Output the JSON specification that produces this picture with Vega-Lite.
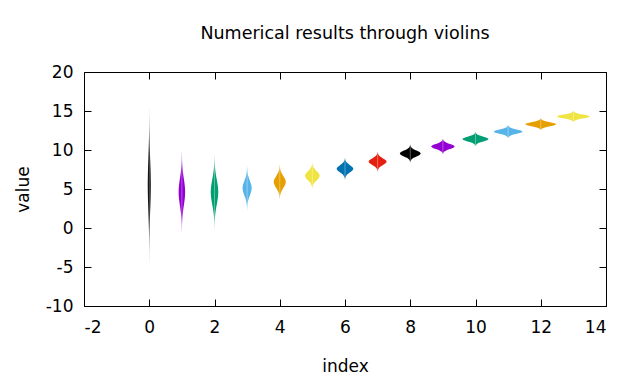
{
 "$schema": "https://vega.github.io/schema/vega-lite/v6.json",
 "width": 522, "height": 234,
 "autosize": {"type": "none"},
 "padding": {"left": 84, "top": 72, "right": 34, "bottom": 78},
 "background": "white",
 "title": {"text": "Numerical results through violins", "fontSize": 17.5, "font": "DejaVu Sans", "fontWeight": "normal", "color": "#000", "anchor": "middle", "offset": 21},
 "config": {
  "view": {"stroke": "#000", "strokeWidth": 1},
  "axis": {"grid": false, "domain": false, "tickColor": "#000", "tickSize": -7, "labelFont": "DejaVu Sans", "labelFontSize": 17, "labelColor": "#000", "titleFont": "DejaVu Sans", "titleFontSize": 17, "titleFontWeight": "normal", "titleColor": "#000", "labelExpr": "'' + datum.value"}
 },
 "data": {"values": [
  {"i":0,"v":-4.4,"lo":-0.0005,"hi":0.0005},{"i":0,"v":-2.75,"lo":-0.002,"hi":0.002},{"i":0,"v":-1.1,"lo":-0.0062,"hi":0.0062},{"i":0,"v":0.55,"lo":-0.0149,"hi":0.0149},{"i":0,"v":2.2,"lo":-0.0279,"hi":0.0279},{"i":0,"v":3.85,"lo":-0.0406,"hi":0.0406},{"i":0,"v":5.5,"lo":-0.046,"hi":0.046},{"i":0,"v":7.15,"lo":-0.0406,"hi":0.0406},{"i":0,"v":8.8,"lo":-0.0279,"hi":0.0279},{"i":0,"v":10.45,"lo":-0.0149,"hi":0.0149},{"i":0,"v":12.1,"lo":-0.0062,"hi":0.0062},{"i":0,"v":13.75,"lo":-0.002,"hi":0.002},{"i":0,"v":15.4,"lo":-0.0005,"hi":0.0005},
  {"i":1,"v":-0.6,"lo":0.9989,"hi":1.0011},{"i":1,"v":0.3,"lo":0.9956,"hi":1.0044},{"i":1,"v":1.2,"lo":0.9865,"hi":1.0135},{"i":1,"v":2.05,"lo":0.9675,"hi":1.0325},{"i":1,"v":2.9,"lo":0.9393,"hi":1.0607},{"i":1,"v":3.75,"lo":0.9117,"hi":1.0883},{"i":1,"v":4.6,"lo":0.9,"hi":1.1},{"i":1,"v":5.45,"lo":0.9117,"hi":1.0883},{"i":1,"v":6.3,"lo":0.9393,"hi":1.0607},{"i":1,"v":7.15,"lo":0.9675,"hi":1.0325},{"i":1,"v":8.0,"lo":0.9865,"hi":1.0135},{"i":1,"v":8.9,"lo":0.9956,"hi":1.0044},{"i":1,"v":9.8,"lo":0.9989,"hi":1.0011},
  {"i":2,"v":-0.2,"lo":1.9987,"hi":2.0013},{"i":2,"v":0.6,"lo":1.995,"hi":2.005},{"i":2,"v":1.4,"lo":1.9844,"hi":2.0156},{"i":2,"v":2.2,"lo":1.9627,"hi":2.0373},{"i":2,"v":3.0,"lo":1.9303,"hi":2.0697},{"i":2,"v":3.8,"lo":1.8985,"hi":2.1015},{"i":2,"v":4.6,"lo":1.885,"hi":2.115},{"i":2,"v":5.4,"lo":1.8985,"hi":2.1015},{"i":2,"v":6.2,"lo":1.9303,"hi":2.0697},{"i":2,"v":7.0,"lo":1.9627,"hi":2.0373},{"i":2,"v":7.8,"lo":1.9844,"hi":2.0156},{"i":2,"v":8.6,"lo":1.995,"hi":2.005},{"i":2,"v":9.4,"lo":1.9987,"hi":2.0013},
  {"i":3,"v":2.31,"lo":2.9984,"hi":3.0016},{"i":3,"v":2.78,"lo":2.9939,"hi":3.0061},{"i":3,"v":3.24,"lo":2.9811,"hi":3.0189},{"i":3,"v":3.71,"lo":2.9545,"hi":3.0455},{"i":3,"v":4.17,"lo":2.9151,"hi":3.0849},{"i":3,"v":4.64,"lo":2.8764,"hi":3.1236},{"i":3,"v":5.1,"lo":2.86,"hi":3.14},{"i":3,"v":5.57,"lo":2.8764,"hi":3.1236},{"i":3,"v":6.03,"lo":2.9151,"hi":3.0849},{"i":3,"v":6.5,"lo":2.9545,"hi":3.0455},{"i":3,"v":6.96,"lo":2.9811,"hi":3.0189},{"i":3,"v":7.43,"lo":2.9939,"hi":3.0061},{"i":3,"v":7.89,"lo":2.9984,"hi":3.0016},
  {"i":4,"v":3.68,"lo":3.9979,"hi":4.0021},{"i":4,"v":4.05,"lo":3.9919,"hi":4.0081},{"i":4,"v":4.42,"lo":3.975,"hi":4.025},{"i":4,"v":4.79,"lo":3.9399,"hi":4.0601},{"i":4,"v":5.16,"lo":3.8878,"hi":4.1122},{"i":4,"v":5.53,"lo":3.8367,"hi":4.1633},{"i":4,"v":5.9,"lo":3.815,"hi":4.185},{"i":4,"v":6.27,"lo":3.8367,"hi":4.1633},{"i":4,"v":6.64,"lo":3.8878,"hi":4.1122},{"i":4,"v":7.01,"lo":3.9399,"hi":4.0601},{"i":4,"v":7.38,"lo":3.975,"hi":4.025},{"i":4,"v":7.75,"lo":3.9919,"hi":4.0081},{"i":4,"v":8.12,"lo":3.9979,"hi":4.0021},
  {"i":5,"v":4.99,"lo":4.9975,"hi":5.0025},{"i":5,"v":5.28,"lo":4.9901,"hi":5.0099},{"i":5,"v":5.56,"lo":4.9696,"hi":5.0304},{"i":5,"v":5.85,"lo":4.9269,"hi":5.0731},{"i":5,"v":6.13,"lo":4.8635,"hi":5.1365},{"i":5,"v":6.42,"lo":4.8014,"hi":5.1986},{"i":5,"v":6.7,"lo":4.775,"hi":5.225},{"i":5,"v":6.99,"lo":4.8014,"hi":5.1986},{"i":5,"v":7.27,"lo":4.8635,"hi":5.1365},{"i":5,"v":7.56,"lo":4.9269,"hi":5.0731},{"i":5,"v":7.84,"lo":4.9696,"hi":5.0304},{"i":5,"v":8.13,"lo":4.9901,"hi":5.0099},{"i":5,"v":8.41,"lo":4.9975,"hi":5.0025},
  {"i":6,"v":6.22,"lo":5.9972,"hi":6.0028},{"i":6,"v":6.45,"lo":5.9888,"hi":6.0112},{"i":6,"v":6.68,"lo":5.9655,"hi":6.0345},{"i":6,"v":6.91,"lo":5.9172,"hi":6.0828},{"i":6,"v":7.14,"lo":5.8453,"hi":6.1547},{"i":6,"v":7.37,"lo":5.775,"hi":6.225},{"i":6,"v":7.6,"lo":5.745,"hi":6.255},{"i":6,"v":7.83,"lo":5.775,"hi":6.225},{"i":6,"v":8.06,"lo":5.8453,"hi":6.1547},{"i":6,"v":8.29,"lo":5.9172,"hi":6.0828},{"i":6,"v":8.52,"lo":5.9655,"hi":6.0345},{"i":6,"v":8.75,"lo":5.9888,"hi":6.0112},{"i":6,"v":8.98,"lo":5.9972,"hi":6.0028},
  {"i":7,"v":7.24,"lo":6.9969,"hi":7.0031},{"i":7,"v":7.45,"lo":6.9879,"hi":7.0121},{"i":7,"v":7.66,"lo":6.9628,"hi":7.0372},{"i":7,"v":7.87,"lo":6.9107,"hi":7.0893},{"i":7,"v":8.08,"lo":6.8332,"hi":7.1668},{"i":7,"v":8.29,"lo":6.7573,"hi":7.2427},{"i":7,"v":8.5,"lo":6.725,"hi":7.275},{"i":7,"v":8.71,"lo":6.7573,"hi":7.2427},{"i":7,"v":8.92,"lo":6.8332,"hi":7.1668},{"i":7,"v":9.13,"lo":6.9107,"hi":7.0893},{"i":7,"v":9.34,"lo":6.9628,"hi":7.0372},{"i":7,"v":9.55,"lo":6.9879,"hi":7.0121},{"i":7,"v":9.76,"lo":6.9969,"hi":7.0031},
  {"i":8,"v":8.44,"lo":7.9964,"hi":8.0036},{"i":8,"v":8.63,"lo":7.986,"hi":8.014},{"i":8,"v":8.81,"lo":7.9567,"hi":8.0433},{"i":8,"v":9.0,"lo":7.8961,"hi":8.1039},{"i":8,"v":9.18,"lo":7.8059,"hi":8.1941},{"i":8,"v":9.37,"lo":7.7176,"hi":8.2824},{"i":8,"v":9.55,"lo":7.68,"hi":8.32},{"i":8,"v":9.74,"lo":7.7176,"hi":8.2824},{"i":8,"v":9.92,"lo":7.8059,"hi":8.1941},{"i":8,"v":10.11,"lo":7.8961,"hi":8.1039},{"i":8,"v":10.29,"lo":7.9567,"hi":8.0433},{"i":8,"v":10.48,"lo":7.986,"hi":8.014},{"i":8,"v":10.66,"lo":7.9964,"hi":8.0036},
  {"i":9,"v":9.49,"lo":8.996,"hi":9.004},{"i":9,"v":9.65,"lo":8.9842,"hi":9.0158},{"i":9,"v":9.81,"lo":8.9513,"hi":9.0487},{"i":9,"v":9.97,"lo":8.8831,"hi":9.1169},{"i":9,"v":10.13,"lo":8.7817,"hi":9.2183},{"i":9,"v":10.29,"lo":8.6823,"hi":9.3177},{"i":9,"v":10.45,"lo":8.64,"hi":9.36},{"i":9,"v":10.61,"lo":8.6823,"hi":9.3177},{"i":9,"v":10.77,"lo":8.7817,"hi":9.2183},{"i":9,"v":10.93,"lo":8.8831,"hi":9.1169},{"i":9,"v":11.09,"lo":8.9513,"hi":9.0487},{"i":9,"v":11.25,"lo":8.9842,"hi":9.0158},{"i":9,"v":11.41,"lo":8.996,"hi":9.004},
  {"i":10,"v":10.5,"lo":9.9956,"hi":10.0044},{"i":10,"v":10.65,"lo":9.9824,"hi":10.0176},{"i":10,"v":10.8,"lo":9.9459,"hi":10.0541},{"i":10,"v":10.95,"lo":9.8701,"hi":10.1299},{"i":10,"v":11.1,"lo":9.7574,"hi":10.2426},{"i":10,"v":11.25,"lo":9.647,"hi":10.353},{"i":10,"v":11.4,"lo":9.6,"hi":10.4},{"i":10,"v":11.55,"lo":9.647,"hi":10.353},{"i":10,"v":11.7,"lo":9.7574,"hi":10.2426},{"i":10,"v":11.85,"lo":9.8701,"hi":10.1299},{"i":10,"v":12.0,"lo":9.9459,"hi":10.0541},{"i":10,"v":12.15,"lo":9.9824,"hi":10.0176},{"i":10,"v":12.3,"lo":9.9956,"hi":10.0044},
  {"i":11,"v":11.54,"lo":10.9952,"hi":11.0048},{"i":11,"v":11.68,"lo":10.9809,"hi":11.0191},{"i":11,"v":11.81,"lo":10.9411,"hi":11.0589},{"i":11,"v":11.95,"lo":10.8588,"hi":11.1412},{"i":11,"v":12.08,"lo":10.7362,"hi":11.2638},{"i":11,"v":12.22,"lo":10.6161,"hi":11.3839},{"i":11,"v":12.35,"lo":10.565,"hi":11.435},{"i":11,"v":12.49,"lo":10.6161,"hi":11.3839},{"i":11,"v":12.62,"lo":10.7362,"hi":11.2638},{"i":11,"v":12.76,"lo":10.8588,"hi":11.1412},{"i":11,"v":12.89,"lo":10.9411,"hi":11.0589},{"i":11,"v":13.03,"lo":10.9809,"hi":11.0191},{"i":11,"v":13.16,"lo":10.9952,"hi":11.0048},
  {"i":12,"v":12.55,"lo":11.9948,"hi":12.0052},{"i":12,"v":12.68,"lo":11.9794,"hi":12.0206},{"i":12,"v":12.8,"lo":11.9364,"hi":12.0636},{"i":12,"v":12.93,"lo":11.8474,"hi":12.1526},{"i":12,"v":13.05,"lo":11.7149,"hi":12.2851},{"i":12,"v":13.18,"lo":11.5852,"hi":12.4148},{"i":12,"v":13.3,"lo":11.53,"hi":12.47},{"i":12,"v":13.43,"lo":11.5852,"hi":12.4148},{"i":12,"v":13.55,"lo":11.7149,"hi":12.2851},{"i":12,"v":13.68,"lo":11.8474,"hi":12.1526},{"i":12,"v":13.8,"lo":11.9364,"hi":12.0636},{"i":12,"v":13.93,"lo":11.9794,"hi":12.0206},{"i":12,"v":14.05,"lo":11.9948,"hi":12.0052},
  {"i":13,"v":13.58,"lo":12.9944,"hi":13.0056},{"i":13,"v":13.7,"lo":12.978,"hi":13.022},{"i":13,"v":13.82,"lo":12.9323,"hi":13.0677},{"i":13,"v":13.94,"lo":12.8376,"hi":13.1624},{"i":13,"v":14.06,"lo":12.6967,"hi":13.3033},{"i":13,"v":14.18,"lo":12.5587,"hi":13.4413},{"i":13,"v":14.3,"lo":12.5,"hi":13.5},{"i":13,"v":14.42,"lo":12.5587,"hi":13.4413},{"i":13,"v":14.54,"lo":12.6967,"hi":13.3033},{"i":13,"v":14.66,"lo":12.8376,"hi":13.1624},{"i":13,"v":14.78,"lo":12.9323,"hi":13.0677},{"i":13,"v":14.9,"lo":12.978,"hi":13.022},{"i":13,"v":15.02,"lo":12.9944,"hi":13.0056}
 ]},
 "layer": [
  {
   "mark": {"type": "area", "orient": "horizontal", "interpolate": "monotone"},
   "encoding": {
    "y": {"field": "v", "type": "quantitative", "scale": {"domain": [-10, 20], "nice": false, "zero": false}, "axis": {"values": [-10, -5, 0, 5, 10, 15, 20], "title": "value", "labelPadding": 18, "titlePadding": 13}},
    "x": {"field": "lo", "type": "quantitative", "scale": {"domain": [-2, 14], "nice": false, "zero": false}, "axis": {"values": [-2, 0, 2, 4, 6, 8, 10, 12, 14], "title": "index", "labelPadding": 20, "titlePadding": 23}},
    "x2": {"field": "hi"},
    "color": {"field": "i", "type": "nominal", "legend": null, "scale": {"domain": [0,1,2,3,4,5,6,7,8,9,10,11,12,13], "range": ["#000000","#9400d3","#009e73","#56b4e9","#e69f00","#f0e442","#0072b2","#e51e10","#000000","#9400d3","#009e73","#56b4e9","#e69f00","#f0e442"]}}
   }
  },
  {
   "mark": {"type": "rule", "color": "white", "opacity": 0.35, "strokeWidth": 1},
   "encoding": {
    "x": {"field": "i", "type": "quantitative", "axis": null},
    "y": {"aggregate": "min", "field": "v", "type": "quantitative", "axis": null},
    "y2": {"aggregate": "max", "field": "v"}
   }
  },
  {
   "mark": {"type": "area", "orient": "horizontal", "opacity": 0},
   "encoding": {
    "y": {"field": "v", "type": "quantitative", "scale": {"domain": [-10, 20], "nice": false, "zero": false}, "axis": {"orient": "right", "values": [-10, -5, 0, 5, 10, 15, 20], "labels": false, "title": null}},
    "x": {"field": "lo", "type": "quantitative", "scale": {"domain": [-2, 14], "nice": false, "zero": false}, "axis": {"orient": "top", "values": [-2, 0, 2, 4, 6, 8, 10, 12, 14], "labels": false, "title": null}},
    "x2": {"field": "hi"},
    "detail": {"field": "i", "type": "nominal"}
   }
  }
 ],
 "resolve": {"axis": {"x": "independent", "y": "independent"}}
}
